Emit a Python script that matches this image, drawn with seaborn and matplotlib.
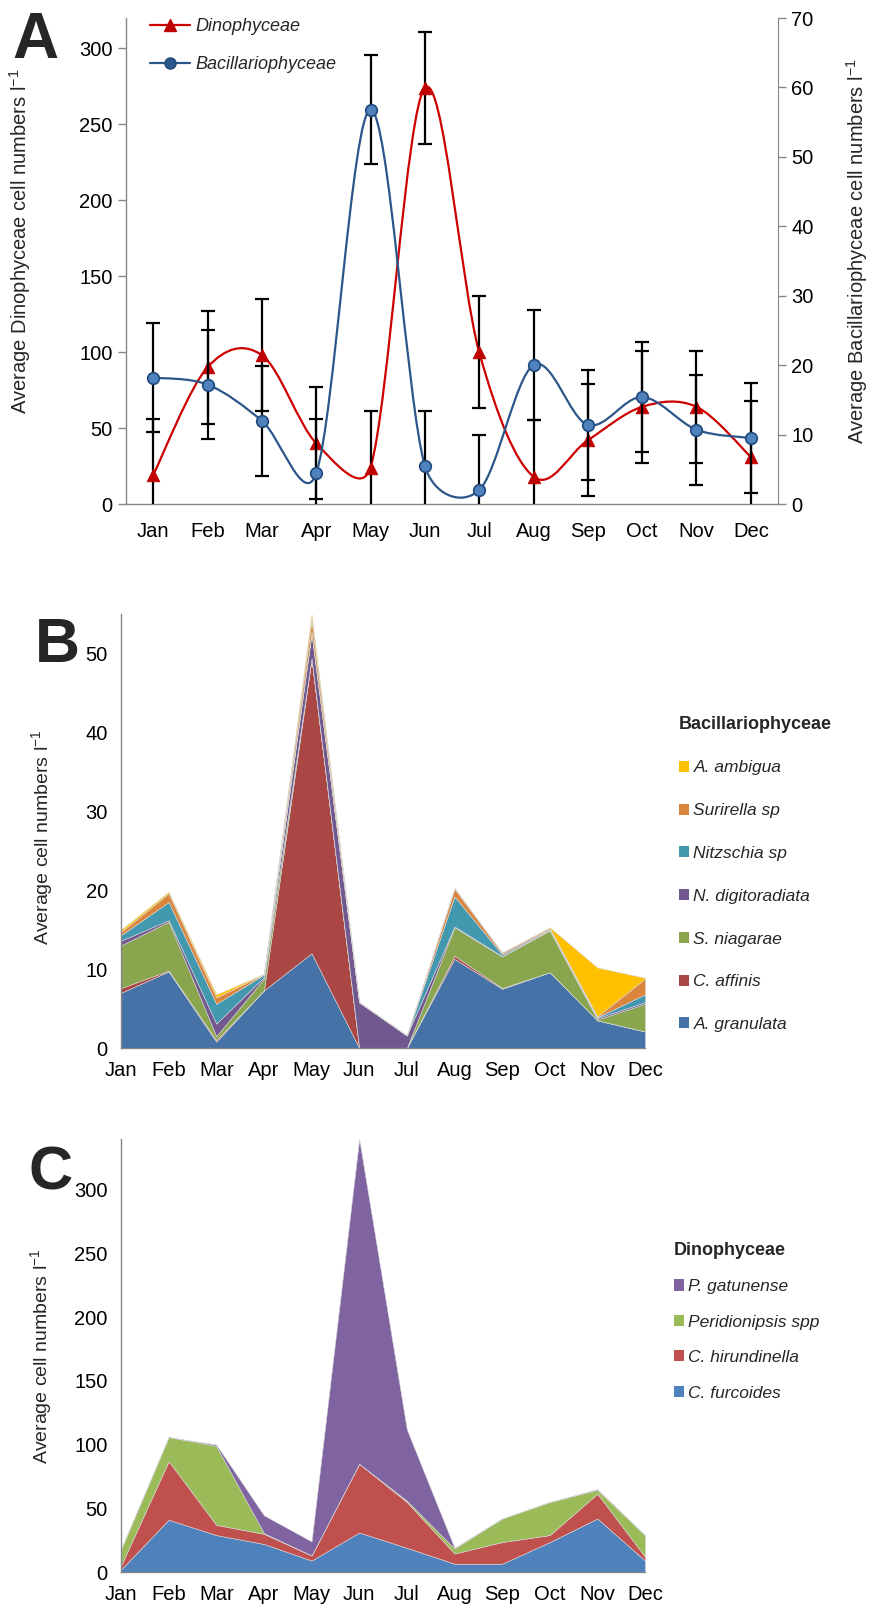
import numpy as np
import pandas as pd
import matplotlib
matplotlib.use("Agg")
import matplotlib.pyplot as plt
import seaborn as sns
from matplotlib.path import Path
from matplotlib.patches import PathPatch, Patch
from matplotlib.lines import Line2D

sns.set_style("white")
plt.rcParams["font.family"] = ["Liberation Sans", "DejaVu Sans"]
plt.rcParams["mathtext.fontset"] = "custom"
plt.rcParams["mathtext.rm"] = "Liberation Sans"
plt.rcParams["mathtext.it"] = "Liberation Sans:italic"

# Donnees
months = ["Jan", "Feb", "Mar", "Apr", "May", "Jun", "Jul", "Aug", "Sep", "Oct", "Nov", "Dec"]

# Panel A : moyennes +/- erreur
dino_mean = [19, 90, 98, 40, 24, 274, 100, 18, 42, 64, 64, 31]
dino_err = [37, 37, 37, 37, 37, 37, 37, 37, 37, 37, 37, 37]
bac_mean = [18.2, 17.2, 12.0, 4.4, 56.8, 5.5, 2.0, 20.0, 11.4, 15.4, 10.7, 9.5]
bac_err = [7.9, 7.9, 7.9, 7.9, 7.9, 7.9, 7.9, 7.9, 7.9, 7.9, 7.9, 7.9]

# Panel B : Bacillariophyceae (empilement, du bas vers le haut)
bac_species = ["A. granulata", "C. affinis", "S. niagarae", "N. digitoradiata",
               "Nitzschia sp", "Surirella sp", "A. ambigua"]
a_granulata = [7.0, 9.7, 0.8, 7.3, 12.0, 0, 0, 11.3, 7.5, 9.6, 3.5, 2.1]
c_affinis = [0.6, 0.1, 0.2, 0, 37.3, 0, 0, 0.4, 0.1, 0, 0, 0]
s_niagarae = [5.4, 6.2, 0.5, 1.5, 0.1, 0, 0, 3.6, 4.0, 5.3, 0.1, 3.5]
n_digitoradiata = [0.6, 0.2, 1.6, 0.2, 3.1, 5.8, 1.6, 0.1, 0.05, 0.05, 0.2, 0.2]
nitzschia = [0.7, 2.3, 2.5, 0.3, 0.2, 0, 0, 3.8, 0.2, 0.1, 0.1, 1.0]
surirella = [0.4, 1.1, 0.8, 0.05, 1.5, 0, 0, 1.0, 0.2, 0.15, 0.1, 2.0]
a_ambigua = [0.3, 0.2, 0.4, 0.05, 0.8, 0, 0, 0.1, 0.05, 0.1, 6.2, 0.1]
bac_colors = ["#4572A7", "#AA4643", "#89A54E", "#71588F", "#4198AF", "#DB843D", "#FFC000"]

# Panel C : Dinophyceae
dino_species = ["C. furcoides", "C. hirundinella", "Peridionipsis spp", "P. gatunense"]
c_furcoides = [2, 41, 29, 22, 9, 31, 19, 6.5, 6.5, 23.5, 42, 9]
c_hirundinella = [3, 46, 8, 8, 4, 54, 36, 8, 17, 5.5, 19.5, 3]
peridinopsis = [13, 19, 62, 0.5, 0, 0, 1, 4, 18.5, 26, 3, 17]
p_gatunense = [0, 0, 1, 14, 11, 255, 56, 0.5, 0, 0, 0.6, 0]
dino_colors = ["#4F81BD", "#C0504D", "#9BBB59", "#8064A2"]

GRAY = "#868686"
W, H = 870, 1611


def smooth_path(ax, x, y):
    # lissage facon Excel : Bezier, pente (P2-P0)/6 bornee a la moitie du segment (en pixels)
    bb = ax.get_window_extent()
    x0, x1 = ax.get_xlim()
    y0, y1 = ax.get_ylim()
    s = np.array([bb.width / (x1 - x0), bb.height / (y1 - y0)])
    P = np.column_stack([np.asarray(x, float), np.asarray(y, float)])
    n = len(P)
    dist = lambda a, b: np.hypot(*((P[b] - P[a]) * s))
    verts = [tuple(P[0])]
    codes = [Path.MOVETO]
    for i in range(n - 1):
        a, d = max(i - 1, 0), min(i + 2, n - 1)
        d12 = dist(i, i + 1)
        f1 = f2 = 1 / 6
        d02 = dist(a, i + 1)
        if d02 > 0 and d02 / 6 > d12 / 2:
            f1 = d12 / 2 / d02
        d13 = dist(i, d)
        if d13 > 0 and d13 / 6 > d12 / 2:
            f2 = d12 / 2 / d13
        c1 = P[i] + (P[i + 1] - P[a]) * f1
        c2 = P[i + 1] - (P[d] - P[i]) * f2
        verts += [tuple(c1), tuple(c2), tuple(P[i + 1])]
        codes += [Path.CURVE4] * 3
    return Path(verts, codes)


def fig_axes(left, top, right, bottom):
    return fig.add_axes([left / W, 1 - bottom / H, (right - left) / W, (bottom - top) / H])


def style_axis(ax):
    for s in ["top", "right"]:
        ax.spines[s].set_visible(False)
    for s in ["left", "bottom"]:
        ax.spines[s].set_color(GRAY)
        ax.spines[s].set_linewidth(1.0)
    ax.tick_params(axis="both", colors=GRAY, labelcolor="black", direction="out",
                   length=6, width=1, labelsize=14.5)


fig = plt.figure(figsize=(W / 100, H / 100), dpi=100)
x = np.arange(len(months))

# ---------------- Panel A ----------------
ax1 = fig_axes(126, 18, 778, 504)
ax2 = ax1.twinx()
style_axis(ax1)
ax2.spines["top"].set_visible(False)
ax2.spines["left"].set_visible(False)
ax2.spines["bottom"].set_visible(False)
ax2.spines["right"].set_color(GRAY)
ax2.tick_params(axis="y", colors=GRAY, labelcolor="black", direction="out",
                length=6, width=1, labelsize=14.5)

ax1.set_xlim(-0.5, 11.5)
ax1.set_ylim(0, 320)
ax2.set_ylim(0, 70)
ax1.set_yticks(range(0, 301, 50))
ax2.set_yticks(range(0, 71, 10))
ax1.set_xticks(x)
ax1.set_xticklabels(months)
ax1.tick_params(axis="x", length=0, pad=13)
ax1.set_xticks(np.arange(-0.5, 12, 1), minor=True)
ax1.tick_params(axis="x", which="minor", length=8, colors=GRAY, direction="out")

ax1.add_patch(PathPatch(smooth_path(ax1, x, dino_mean), facecolor="none",
                        edgecolor="#CC0000", lw=1.6, zorder=3))
ax2.add_patch(PathPatch(smooth_path(ax2, x, bac_mean), facecolor="none",
                        edgecolor="#2B5689", lw=1.6, zorder=3))
ax1.errorbar(x, dino_mean, yerr=dino_err, fmt="none", ecolor="black",
             elinewidth=1.6, capsize=5, capthick=1.6, zorder=4)
ax2.errorbar(x, bac_mean, yerr=bac_err, fmt="none", ecolor="black",
             elinewidth=1.6, capsize=5, capthick=1.6, zorder=4)
sns.scatterplot(x=x, y=dino_mean, ax=ax1, marker="^", s=80, color="#C00000",
                edgecolor="#C00000", zorder=5)
sns.scatterplot(x=x, y=bac_mean, ax=ax2, marker="o", s=70, color="#4F81BD",
                edgecolor="#1F497D", linewidth=1.2, zorder=5)

ax1.set_ylabel("Average Dinophyceae cell numbers l$^{-1}$", fontsize=14.5)
ax1.yaxis.set_label_coords(-0.143, 0.54)
ax2.set_ylabel("Average Bacillariophyceae cell numbers l$^{-1}$", fontsize=14.5)
ax2.yaxis.set_label_coords(1.101, 0.52)

leg_handles = [
    Line2D([0], [0], color="#CC0000", lw=1.6, marker="^", markersize=8,
           markerfacecolor="#C00000", markeredgecolor="#C00000"),
    Line2D([0], [0], color="#2B5689", lw=1.6, marker="o", markersize=8,
           markerfacecolor="#2B5689", markeredgecolor="#1F497D"),
]
ax2.legend(leg_handles, ["Dinophyceae", "Bacillariophyceae"], loc="upper left",
           bbox_to_anchor=(134 / W, 1 - 2 / H), bbox_transform=fig.transFigure,
           frameon=False, prop={"style": "italic", "size": 13},
           handlelength=2.2, handletextpad=0.3, labelspacing=1.15)

fig.text(12 / W, 1 - 58 / H, "A", fontsize=46, fontweight="bold", va="baseline")

# ---------------- Panel B ----------------
df_bac = pd.DataFrame(dict(zip(bac_species, [a_granulata, c_affinis, s_niagarae,
                                             n_digitoradiata, nitzschia, surirella,
                                             a_ambigua])), index=months)
axB = fig_axes(121, 614, 645, 1048)
style_axis(axB)
axB.stackplot(x, *[df_bac[c].values for c in bac_species], colors=bac_colors,
              labels=bac_species, edgecolor="#d8d8d8", linewidth=0.4)
axB.set_xlim(0, 11)
axB.set_ylim(0, 55)
axB.set_yticks(range(0, 51, 10))
axB.set_xticks(x)
axB.set_xticklabels(months)
axB.set_ylabel("Average cell numbers l$^{-1}$", fontsize=14)
axB.yaxis.set_label_coords(-0.125, 0.485)
hB = [Patch(facecolor=c, edgecolor="none") for c in bac_colors][::-1]
legB = axB.legend(hB, bac_species[::-1], loc="upper left",
                  bbox_to_anchor=(663 / W, 1 - 700 / H), bbox_transform=fig.transFigure,
                  frameon=False, prop={"style": "italic", "size": 12.5},
                  title="Bacillariophyceae",
                  title_fontproperties={"weight": "bold", "size": 13},
                  handlelength=0.6, handleheight=0.6, handletextpad=0.25,
                  labelspacing=1.6)
legB._legend_box.align = "left"
fig.text(35 / W, 1 - 662 / H, "B", fontsize=45, fontweight="bold", va="baseline")

# ---------------- Panel C ----------------
df_dino = pd.DataFrame(dict(zip(dino_species, [c_furcoides, c_hirundinella,
                                               peridinopsis, p_gatunense])), index=months)
axC = fig_axes(121, 1139, 645, 1572)
style_axis(axC)
axC.stackplot(x, *[df_dino[c].values for c in dino_species], colors=dino_colors,
              labels=dino_species, edgecolor="#d8d8d8", linewidth=0.4)
axC.set_xlim(0, 11)
axC.set_ylim(0, 340)
axC.set_yticks(range(0, 301, 50))
axC.set_xticks(x)
axC.set_xticklabels(months)
axC.set_ylabel("Average cell numbers l$^{-1}$", fontsize=14)
axC.yaxis.set_label_coords(-0.128, 0.497)
hC = [Patch(facecolor=c, edgecolor="none") for c in dino_colors][::-1]
legC = axC.legend(hC, dino_species[::-1], loc="upper left",
                  bbox_to_anchor=(658 / W, 1 - 1226 / H), bbox_transform=fig.transFigure,
                  frameon=False, prop={"style": "italic", "size": 12.5},
                  title="Dinophyceae",
                  title_fontproperties={"weight": "bold", "size": 13},
                  handlelength=0.6, handleheight=0.6, handletextpad=0.25,
                  labelspacing=1.18)
legC._legend_box.align = "left"
fig.text(29 / W, 1 - 1189 / H, "C", fontsize=44, fontweight="bold", va="baseline")

fig.savefig("out.png", dpi=100)
